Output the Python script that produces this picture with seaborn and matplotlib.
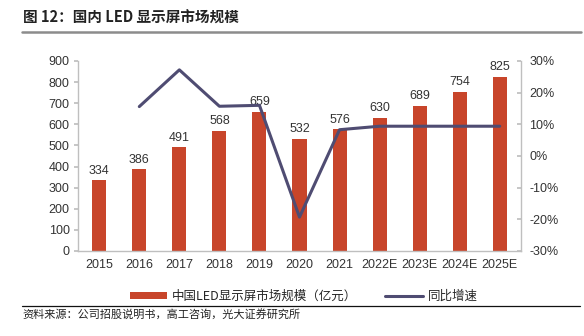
import matplotlib
matplotlib.use("Agg")
import matplotlib.pyplot as plt
from matplotlib.lines import Line2D
from matplotlib.patches import Patch
from matplotlib.ticker import FuncFormatter, MultipleLocator
import seaborn as sns
import pandas as pd

years = ["2015", "2016", "2017", "2018", "2019", "2020", "2021",
         "2022E", "2023E", "2024E", "2025E"]
market_size = [334, 386, 491, 568, 659, 532, 576, 630, 689, 754, 825]
growth_pct = [None, 15.6, 27.2, 15.7, 16.0, -19.3, 8.3, 9.4, 9.4, 9.4, 9.4]

bar_label = "中国LED显示屏市场规模（亿元）"
line_label = "同比增速"
title = "图 12：国内 LED 显示屏市场规模"
source = "资料来源：公司招股说明书，高工咨询，光大证券研究所"

bar_color = "#C8452A"
line_color = "#4F4C72"
axis_grey = "#BFBFBF"
text_color = "#333333"

sns.set_theme(style="white")
plt.rcParams["font.family"] = ["Liberation Sans", "Noto Sans CJK SC", "DejaVu Sans"]
cjk = ["Noto Sans CJK SC", "DejaVu Sans"]

df = pd.DataFrame({"year": years, "size": market_size, "growth": growth_pct})
df["pos"] = range(len(df))

fig = plt.figure(figsize=(5.84, 3.36), dpi=100)
ax = fig.add_axes([0.1336, 0.253, 0.7585, 0.5655])

sns.barplot(data=df, x="year", y="size", color=bar_color, width=0.35,
            saturation=1, ax=ax, edgecolor="none")
for i, v in enumerate(market_size):
    ax.text(i, v + 18, f"{v}", ha="center", va="bottom", fontsize=9,
            color=text_color)

ax.set_ylim(0, 900)
ax.set_xlim(-0.53, len(years) - 0.47)
ax.yaxis.set_major_locator(MultipleLocator(100))
ax.set_xlabel("")
ax.set_ylabel("")
ax.tick_params(axis="y", which="major", direction="out", length=3,
               color=axis_grey, labelsize=9, labelcolor=text_color, pad=3)
ax.tick_params(axis="x", length=0, labelsize=9, labelcolor=text_color, pad=6)
for side in ["top", "right"]:
    ax.spines[side].set_visible(False)
for side in ["left", "bottom"]:
    ax.spines[side].set_color(axis_grey)
    ax.spines[side].set_linewidth(1.0)

ax2 = ax.twinx()
line_df = df.dropna(subset=["growth"])
sns.lineplot(data=line_df, x="pos", y="growth", color=line_color,
             linewidth=2.2, ax=ax2)
ax2.set_ylim(-30, 30)
ax2.yaxis.set_major_locator(MultipleLocator(10))
ax2.yaxis.set_major_formatter(FuncFormatter(lambda v, p: f"{v:.0f}%"))
ax2.set_ylabel("")
ax2.set_xlabel("")
ax2.tick_params(axis="y", direction="in", length=3, color=axis_grey,
                labelsize=9, labelcolor=text_color, pad=6)
for side in ["top", "left", "bottom"]:
    ax2.spines[side].set_visible(False)
ax2.spines["right"].set_color(axis_grey)
ax2.spines["right"].set_linewidth(1.0)
ax2.set_xlim(ax.get_xlim())

handles = [Patch(facecolor=bar_color, edgecolor="none"),
           Line2D([0], [0], color=line_color, linewidth=2.2)]
fig.legend(handles, [bar_label, line_label], loc="center",
           bbox_to_anchor=(0.52, 0.118), ncol=2, frameon=False,
           prop={"family": cjk, "size": 9}, handlelength=3.0,
           handleheight=0.5, columnspacing=2.2, handletextpad=0.4)

fig.text(0.039, 0.948, title, fontsize=10.5, fontweight="bold",
         family=cjk, color="#222222", va="center", ha="left")
fig.add_artist(Line2D([0.038, 0.995], [0.905, 0.905], color="#8C8C8C",
                      linewidth=1.8, transform=fig.transFigure))
fig.add_artist(Line2D([0.038, 0.993], [0.089, 0.089], color="#111111",
                      linewidth=0.9, transform=fig.transFigure))
fig.text(0.039, 0.065, source, fontsize=8, family=cjk, color="#222222",
         va="center", ha="left")

fig.savefig("out.png", dpi=100)
